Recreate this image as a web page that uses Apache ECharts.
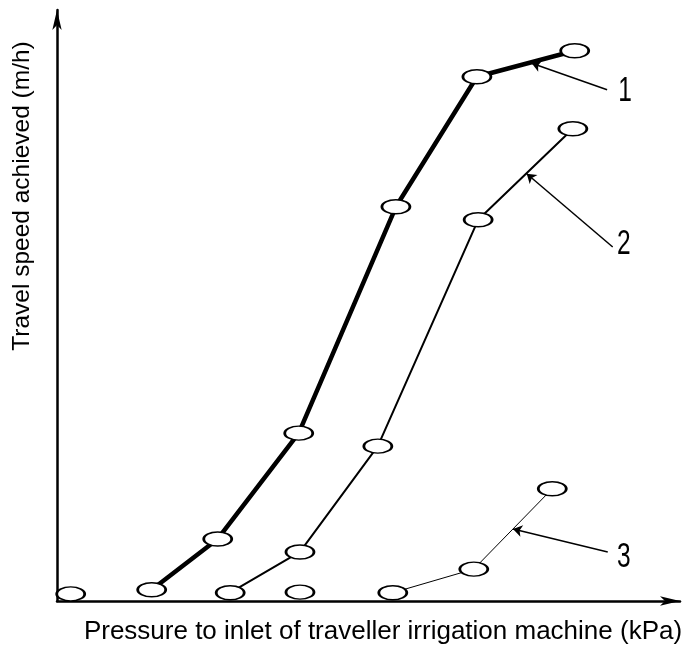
<!DOCTYPE html>
<html><head><meta charset="utf-8">
<script src="https://cdn.jsdelivr.net/npm/echarts@6/dist/echarts.min.js"></script>
<style>html,body{margin:0;padding:0;background:#fff}#c{width:685px;height:646px}</style>
</head><body><div id="c"></div>
<script>
// Data (arbitrary units; axes carry no scale)
const pressure1 = [15.2, 25.8, 38.8, 54.4, 67.4, 83.1];
const speed1    = [1.9, 10.5, 28.4, 66.7, 88.7, 93.1];
const pressure2 = [27.8, 39.0, 51.5, 67.6, 82.8];
const speed2    = [1.4, 8.3, 26.2, 64.5, 79.9];
const pressure3 = [53.9, 66.9, 79.5];
const speed3    = [1.4, 5.4, 19.0];
const pressureZero = [2.2, 39.0];
const speedZero    = [1.2, 1.5];
const curveLabels = ['1', '2', '3'];
const annotTail = [[88.3, 86.5], [89.2, 59.9], [88.4, 8.3]];
const annotHead = [[76.2, 91.0], [75.4, 72.3], [73.2, 12.2]];
const labelPos  = [[91.2, 86.3], [91.0, 60.4], [91.0, 7.4]];
const xTitle = 'Pressure to inlet of traveller irrigation machine (kPa)';
const yTitle = 'Travel speed achieved (m/h)';

const zip = (a, b) => a.map((v, i) => [v, b[i]]);
const ellipse = 'path://M0,7 A13,7 0 1,1 26,7 A13,7 0 1,1 0,7 Z';
const markerStyle = {color: '#fff', borderColor: '#000', borderWidth: 2, opacity: 1};
const axisCommon = {
  type: 'value', min: 0, max: 100,
  axisLine: {show: true, onZero: false, symbol: ['none', 'arrow'], symbolSize: [7, 20],
    lineStyle: {color: '#000', width: 2.5}},
  axisTick: {show: false}, axisLabel: {show: false}, splitLine: {show: false}
};
function arrow(i) {
  return {
    silent: true, animation: false, symbol: ['none', 'arrow'], symbolSize: 9,
    label: {show: false}, lineStyle: {color: '#000', width: 1.5, type: 'solid'},
    data: [[{coord: annotTail[i]}, {coord: annotHead[i]}]]
  };
}
function lineSeries(xs, ys, w, i) {
  return {
    type: 'line', data: zip(xs, ys), symbol: ellipse, symbolSize: [28, 14],
    itemStyle: markerStyle, lineStyle: {color: '#000', width: w}, z: 3,
    markLine: arrow(i)
  };
}
const chart = echarts.init(document.getElementById('c'), null, {renderer: 'canvas'});
chart.setOption({
  animation: false,
  grid: {left: 57, right: 5, top: 10, bottom: 45},
  xAxis: axisCommon,
  yAxis: axisCommon,
  series: [
    lineSeries(pressure1, speed1, 4.5, 0),
    lineSeries(pressure2, speed2, 2, 1),
    lineSeries(pressure3, speed3, 1, 2),
    {type: 'scatter', data: zip(pressureZero, speedZero), symbol: ellipse, symbolSize: [28, 14],
     itemStyle: markerStyle, z: 3}
  ]
});
const g = [];
labelPos.forEach((p, i) => {
  const px = chart.convertToPixel({gridIndex: 0}, p);
  g.push({type: 'text', x: px[0], y: px[1], scaleX: 0.7, style: {text: curveLabels[i],
    font: '35px "Liberation Sans", sans-serif', fill: '#000', textAlign: 'center', textVerticalAlign: 'middle'}});
});
g.push({type: 'text', x: 383, y: 632, style: {text: xTitle,
  font: '26px "Liberation Sans", sans-serif', fill: '#000', textAlign: 'center', textVerticalAlign: 'middle'}});
g.push({type: 'text', x: 22, y: 196, rotation: Math.PI / 2, style: {text: yTitle,
  font: '24.5px "Liberation Sans", sans-serif', fill: '#000', textAlign: 'center', textVerticalAlign: 'middle'}});
chart.setOption({graphic: g});
</script></body></html>
